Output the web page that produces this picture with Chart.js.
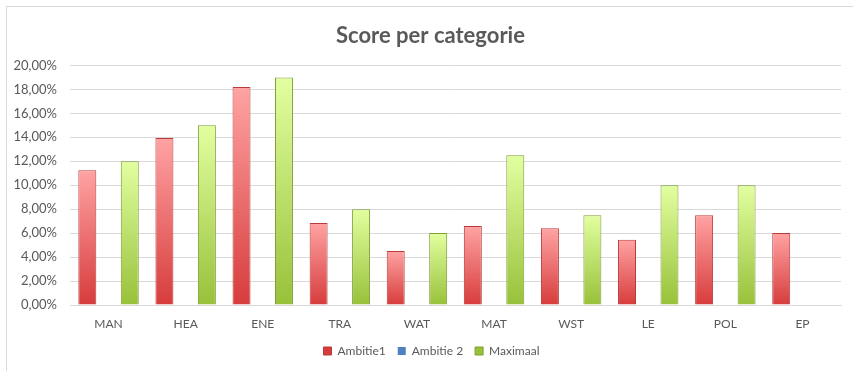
<!DOCTYPE html>
<html lang="nl">
<head>
  <meta charset="utf-8" />
  <title>Score per categorie</title>
  <script src="https://cdn.jsdelivr.net/npm/chart.js@4.4.1/dist/chart.umd.min.js"></script>
  <style>
    html, body { margin: 0; padding: 0; background: #fff; }
    .frame { position: relative; width: 853px; height: 371px; overflow: hidden; }
    .frame::before {
      content: ''; position: absolute; left: 6px; top: 6px; right: -10px; bottom: -10px;
      border-left: 1px solid #d9d9d9; border-top: 1px solid #d9d9d9; pointer-events: none;
    }
    canvas { display: block; }
  </style>
</head>
<body>
  <div class="frame"><canvas id="chart" width="853" height="371"></canvas></div>

  <script>
    // categories and series (percentages)
    const categories = ['MAN', 'HEA', 'ENE', 'TRA', 'WAT', 'MAT', 'WST', 'LE', 'POL', 'EP'];
    const ambitie1 = [11.25, 13.95, 18.2, 6.85, 4.5, 6.6, 6.4, 5.45, 7.5, 6.0];
    const ambitie2 = [0, 0, 0, 0, 0, 0, 0, 0, 0, 0];
    const maximaal = [12, 15, 19, 8, 6, 12.5, 7.5, 10, 10, 0];
    const yTicks = { min: 0, max: 20, step: 2 };

    const FONT = "Lato, 'Open Sans', sans-serif";
    const TEXT = '#595959';
    const GRID = '#d9d9d9';

    // vertical gradient per bar: light on top, darker at the base
    function barFill(top, bottom, solid) {
      return (ctx) => {
        const chart = ctx.chart;
        const area = chart.chartArea;
        if (!area || ctx.type !== 'data' || ctx.parsed == null) return solid;
        const yTop = chart.scales.y.getPixelForValue(ctx.parsed.y);
        const yBottom = chart.scales.y.getPixelForValue(0);
        if (!(yBottom > yTop)) return solid;
        const g = chart.ctx.createLinearGradient(0, yTop, 0, yBottom);
        g.addColorStop(0, top);
        g.addColorStop(1, bottom);
        return g;
      };
    }

    // title and legend in the original sit a bit right of the canvas centre
    const centreNudge = {
      id: 'centreNudge',
      afterLayout(chart) {
        chart.legend.left += 8;
        chart.legend.right += 8;
        chart.titleBlock.left += 7;
        chart.titleBlock.right += 7;
      }
    };

    new Chart(document.getElementById('chart'), {
      type: 'bar',
      plugins: [centreNudge],
      data: {
        labels: categories,
        datasets: [
          { label: 'Ambitie1', data: ambitie1,
            backgroundColor: barFill('#ffa3a3', '#d73c3c', '#d9534f'),
            borderColor: '#b83a3a', borderWidth: 1 },
          { label: 'Ambitie 2', data: ambitie2,
            backgroundColor: barFill('#a9c4eb', '#3f73b8', '#4f81bd'),
            borderColor: '#3f6ea8', borderWidth: 0 },
          { label: 'Maximaal', data: maximaal,
            backgroundColor: barFill('#e2ffa0', '#98c13a', '#9bbb59'),
            borderColor: '#7f9f35', borderWidth: 1 }
        ]
      },
      options: {
        responsive: false,
        animation: false,
        devicePixelRatio: 1,
        categoryPercentage: 0.826,
        barPercentage: 0.847,
        layout: { padding: { left: 6, right: 12, top: 0, bottom: 4 } },
        plugins: {
          title: {
            display: true,
            text: 'Score per categorie',
            color: TEXT,
            font: { family: FONT, size: 22, weight: 'bold' },
            padding: { top: 23, bottom: 16 }
          },
          legend: {
            position: 'bottom',
            labels: {
              color: TEXT,
              font: { family: FONT, size: 12 },
              boxWidth: 8,
              boxHeight: 8,
              padding: 12
            }
          },
          tooltip: { enabled: false }
        },
        scales: {
          x: {
            grid: { display: false },
            border: { color: GRID, width: 1 },
            ticks: { color: TEXT, font: { family: FONT, size: 12 }, padding: 4 },
            afterFit: (axis) => { axis.height = 28; }
          },
          y: {
            min: yTicks.min,
            max: yTicks.max,
            grid: { color: GRID, lineWidth: 1, drawTicks: false },
            border: { display: false },
            ticks: {
              stepSize: yTicks.step,
              color: TEXT,
              font: { family: FONT, size: 13 },
              padding: 13,
              callback: (v) => v.toFixed(2).replace('.', ',') + '%'
            },
            afterFit: (axis) => { axis.width = 64; }
          }
        }
      }
    });
  </script>
</body>
</html>
